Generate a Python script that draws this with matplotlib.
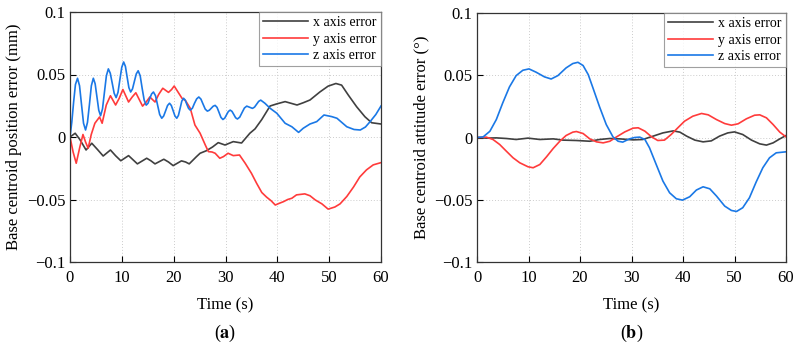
import matplotlib
matplotlib.use("Agg")
import matplotlib.pyplot as plt

# ---------------- data (a) position error ----------------
a_x_t = [0, 1.0, 1.9, 3.1, 4.2, 5.3, 6.4, 7.8, 8.8, 9.8, 11.3, 12.1, 13.0, 14.8, 15.6, 16.4, 18.1, 19.0, 19.9,
         21.5, 22.3, 23.0, 24.4, 25.1, 26.3, 27.5, 28.6, 29.9, 31.5, 33.1, 34.7, 35.7, 37.0, 38.6, 39.9,
         41.5, 43.8, 45.0, 46.3, 48.2, 49.8, 51.3, 52.4, 53.7, 55.3, 56.9, 58.2, 60]
a_x_v = [0, 0.003, -0.002, -0.0104, -0.005, -0.010, -0.0152, -0.0104, -0.015, -0.019, -0.0149, -0.018, -0.0215,
         -0.017, -0.019, -0.0215, -0.0178, -0.020, -0.0229, -0.0191, -0.020, -0.0215, -0.0157, -0.013, -0.011,
         -0.008, -0.0045, -0.0064, -0.0037, -0.0048, 0.003, 0.0065, 0.014, 0.0248, 0.0265,
         0.0283, 0.0256, 0.0274, 0.0296, 0.036, 0.0407, 0.0428, 0.0415, 0.0335, 0.0242, 0.0162, 0.0114, 0.0104]

a_y_t = [0, 0.6, 1.2, 1.9, 2.5, 3.0, 3.5, 4.1, 4.8, 5.7, 6.2, 7.0, 7.8, 8.8, 9.5, 10.2, 11.3, 12.0, 12.7, 14.0,
         14.7, 15.4, 16.4, 17.1, 17.9, 19.0, 19.6, 20.1, 21.6, 22.3, 23.2, 24.1, 25.1, 26.1, 26.7, 27.4, 28.0,
         28.9, 29.6, 30.5, 31.5, 32.7, 33.8, 35.0, 36.0, 37.0, 37.9, 38.8, 39.6, 40.4, 41.2, 42.0, 42.8, 43.7,
         45.3, 46.3, 47.3, 48.6, 49.8, 51.1, 52.1, 53.4, 54.7, 55.9, 57.2, 58.5, 60]
a_y_v = [0, -0.012, -0.021, -0.008, 0.002, -0.004, -0.009, 0.002, 0.011, 0.016, 0.011, 0.0256, 0.033,
         0.0256, 0.031, 0.038, 0.028, 0.032, 0.0354, 0.0247, 0.028, 0.032, 0.028, 0.034, 0.039, 0.0357,
         0.038, 0.0408, 0.031, 0.029, 0.023, 0.0096, 0.003, -0.0064, -0.0117, -0.012, -0.013, -0.017, -0.0157,
         -0.013, -0.0149, -0.0144, -0.021, -0.029, -0.037, -0.0444, -0.048, -0.051, -0.0544, -0.053,
         -0.0517, -0.050, -0.049, -0.0463, -0.0455, -0.047, -0.0503, -0.0535, -0.0577, -0.056, -0.0535, -0.0476,
         -0.040, -0.032, -0.0263, -0.0223, -0.0205]

a_z_t = [0, 0.35, 0.7, 1.05, 1.45, 1.84, 2.22, 2.61, 3.0, 3.37, 3.75, 4.12, 4.5, 4.85, 5.2, 5.55, 5.9,
         6.27, 6.65, 7.02, 7.4, 7.77, 8.15, 8.52, 8.9, 9.26, 9.62, 9.99, 10.35, 10.69, 11.02, 11.36, 11.7,
         12.06, 12.42, 12.79, 13.15, 13.54, 13.92, 14.31, 14.7, 15.05, 15.4, 15.75, 16.1, 16.5, 16.9, 17.3,
         17.7, 18.07, 18.45, 18.82, 19.2, 19.55, 19.9, 20.25, 20.6, 20.92, 21.25, 21.57, 21.9, 22.22, 22.55,
         22.87, 23.2, 23.61, 24.02, 24.44, 24.85, 25.26, 25.67, 26.09, 26.5, 26.87, 27.25, 27.62, 28.0, 28.37,
         28.75, 29.12, 29.5, 29.85, 30.2, 30.55, 30.9, 31.25, 31.6, 31.95, 32.3, 32.75, 33.2, 33.65, 34.1,
         34.65, 35.2, 35.6, 36.0, 36.4, 36.8, 37.6, 38.6, 39.9, 41.5, 42.8, 44.1, 45.0, 46.3, 47.6, 49.0,
         50.5, 51.5, 53.4, 54.8, 56.0, 57.0, 57.9, 59.0, 60]
a_z_v = [0, 0.012, 0.028, 0.042, 0.047, 0.041, 0.026, 0.011, 0.0056, 0.0117, 0.026, 0.041, 0.047, 0.0426,
         0.032, 0.0214, 0.017, 0.0225, 0.036, 0.049, 0.0545, 0.051, 0.043, 0.035, 0.0315, 0.0357, 0.0458,
         0.0558, 0.060, 0.0565, 0.048, 0.0395, 0.036, 0.0385, 0.0445, 0.0505, 0.053, 0.049, 0.039, 0.0295,
         0.0255, 0.027, 0.031, 0.0345, 0.036, 0.033, 0.0255, 0.018, 0.015, 0.0168, 0.021, 0.0252, 0.027,
         0.0252, 0.021, 0.0168, 0.015, 0.0173, 0.023, 0.0287, 0.031, 0.0296, 0.026, 0.0229, 0.0215, 0.023,
         0.027, 0.0305, 0.032, 0.0303, 0.0263, 0.0223, 0.0207, 0.0214, 0.023, 0.0246, 0.0253, 0.0237, 0.0197,
         0.0157, 0.014, 0.0151, 0.0178, 0.0204, 0.0215, 0.0205, 0.018, 0.0154, 0.0144, 0.0159, 0.0196, 0.0232,
         0.0247, 0.0238, 0.0229, 0.0239, 0.0262, 0.0285, 0.0295, 0.027, 0.023, 0.019, 0.011, 0.0082, 0.0037,
         0.007, 0.0104, 0.0123, 0.0176, 0.0163, 0.015, 0.0082, 0.006, 0.0056, 0.008, 0.0123, 0.018, 0.0248]

# ---------------- data (b) attitude error ----------------
b_x_t = [0, 1.8, 3.75, 5.7, 7.6, 9.9, 12.2, 14.8, 16.7, 19.3, 21.9, 23.8, 25.8, 27.7, 30.3, 32.2, 34.2, 36.1,
         38.1, 39.4, 40.7, 42.3, 43.9, 45.5, 47.1, 48.7, 50.0, 51.6, 53.3, 54.9, 56.2, 57.5, 58.8, 60]
b_x_v = [0, -0.0005, -0.0003, -0.0008, -0.0016, -0.0005, -0.0016, -0.0011, -0.0021, -0.0024, -0.003, -0.0016,
         -0.0008, -0.0011, -0.0019, -0.0016, 0.0011, 0.0037, 0.0053, 0.0043, 0.0011, -0.0021, -0.0035, -0.0027,
         0.0011, 0.0037, 0.0045, 0.0024, -0.0021, -0.0051, -0.0061, -0.0043, -0.0011, 0.0016]

b_y_t = [0, 1.8, 3.1, 4.4, 5.7, 7.0, 8.3, 9.9, 10.9, 12.2, 13.5, 14.8, 16.1, 17.3, 18.6, 19.3, 20.6, 21.9, 23.2,
         24.5, 25.8, 27.1, 28.7, 30.3, 31.3, 32.6, 33.9, 35.1, 36.4, 37.7, 39.0, 40.3, 41.9, 43.6, 44.9, 46.5,
         48.1, 49.4, 50.7, 52.3, 53.9, 54.9, 56.2, 57.5, 58.8, 60]
b_y_v = [0, 0.0003, -0.0016, -0.0056, -0.011, -0.0163, -0.0203, -0.0235, -0.0243, -0.0217, -0.0155, -0.0088,
         -0.0029, 0.0016, 0.0043, 0.0048, 0.0032, -0.0011, -0.0035, -0.0043, -0.003, 0.0005, 0.0045, 0.0075,
         0.0078, 0.0051, 0.0005, -0.0024, -0.0021, 0.0024, 0.0078, 0.0131, 0.0171, 0.0193, 0.0182, 0.0144,
         0.0112, 0.0099, 0.011, 0.015, 0.0179, 0.0182, 0.0158, 0.0104, 0.0043, 0.0005]

b_z_t = [0, 1.2, 2.5, 3.75, 5.0, 6.3, 7.6, 8.9, 10.1, 11.5, 13.1, 14.4, 15.7, 17.3, 18.6, 19.6, 20.6, 21.6, 22.5,
         23.8, 25.1, 26.4, 27.4, 28.3, 29.6, 30.6, 31.6, 32.6, 33.5, 34.8, 36.1, 37.4, 38.7, 39.9, 41.3, 42.6,
         43.9, 45.2, 46.5, 48.1, 49.4, 50.4, 51.6, 52.9, 54.2, 55.5, 56.8, 58.1, 60]
b_z_v = [0, 0.0005, 0.005, 0.0144, 0.0278, 0.0406, 0.0497, 0.054, 0.0551, 0.0524, 0.0487, 0.047, 0.0497, 0.0559,
         0.0594, 0.0604, 0.0578, 0.0505, 0.040, 0.0246, 0.0104, 0.0005, -0.003, -0.0037, -0.0011, 0, 0.0003,
         -0.0016, -0.0083, -0.0217, -0.035, -0.0444, -0.0492, -0.0503, -0.0476, -0.0422, -0.0396, -0.0412,
         -0.047, -0.0551, -0.0586, -0.0594, -0.0564, -0.0484, -0.0358, -0.0243, -0.0163, -0.0123, -0.0115]

series_labels = ["x axis error", "y axis error", "z axis error"]
x_ticks = [0, 10, 20, 30, 40, 50, 60]
y_ticks = [-0.1, -0.05, 0, 0.05, 0.1]
y_tick_labels = ["\u22120.1", "\u22120.05", "0", "0.05", "0.1"]

colors = ["#404040", "#ff3b3b", "#1a78e6"]

plt.rcParams["font.family"] = ["Liberation Serif", "DejaVu Serif"]
plt.rcParams["mathtext.fontset"] = "stix"

fig = plt.figure(figsize=(7.99, 3.48), dpi=100)
ax1 = fig.add_axes([70/799, 1-262/348, 311/799, 250/348])
ax2 = fig.add_axes([477/799, 1-262/348, 309/799, 249/348])

panels = [
    (ax1, [(a_x_t, a_x_v), (a_y_t, a_y_v), (a_z_t, a_z_v)], "Base centroid position error (mm)", "a"),
    (ax2, [(b_x_t, b_x_v), (b_y_t, b_y_v), (b_z_t, b_z_v)], "Base centroid attitude error (°)", "b"),
]

for ax, data, ylabel, tag in panels:
    for (t, v), c, lab in zip(data, colors, series_labels):
        ax.plot(t, v, color=c, lw=1.2, label=lab, solid_joinstyle="round")
    ax.set_xlim(0, 60)
    ax.set_ylim(-0.1, 0.1)
    ax.set_xticks(x_ticks)
    ax.set_yticks(y_ticks)
    ax.set_yticklabels(y_tick_labels)
    ax.tick_params(axis="x", pad=6)
    ax.tick_params(direction="in", length=4, width=0.8, labelsize=12, colors="black")
    ax.grid(True, color="#cccccc", linestyle=(0, (1, 2)), linewidth=0.7)
    for s in ax.spines.values():
        s.set_linewidth(0.9)
        s.set_color("#333333")
    ax.set_xlabel("Time (s)", fontsize=12, labelpad=8)
    ax.set_ylabel(ylabel, fontsize=12, labelpad=3)
    leg = ax.legend(loc="upper right", fontsize=10, frameon=True, fancybox=False,
                    edgecolor="#888888", borderaxespad=0.0, handlelength=3.2,
                    handletextpad=0.4, labelspacing=0.25, borderpad=0.3)
    leg.get_frame().set_linewidth(0.8)
    pos = ax.get_position()
    fig.text(pos.x0 + pos.width/2, 1-333/348, r"($\mathbf{" + tag + r"}$)", ha="center", va="center",
             fontsize=13)

fig.savefig("out.png", dpi=100)
